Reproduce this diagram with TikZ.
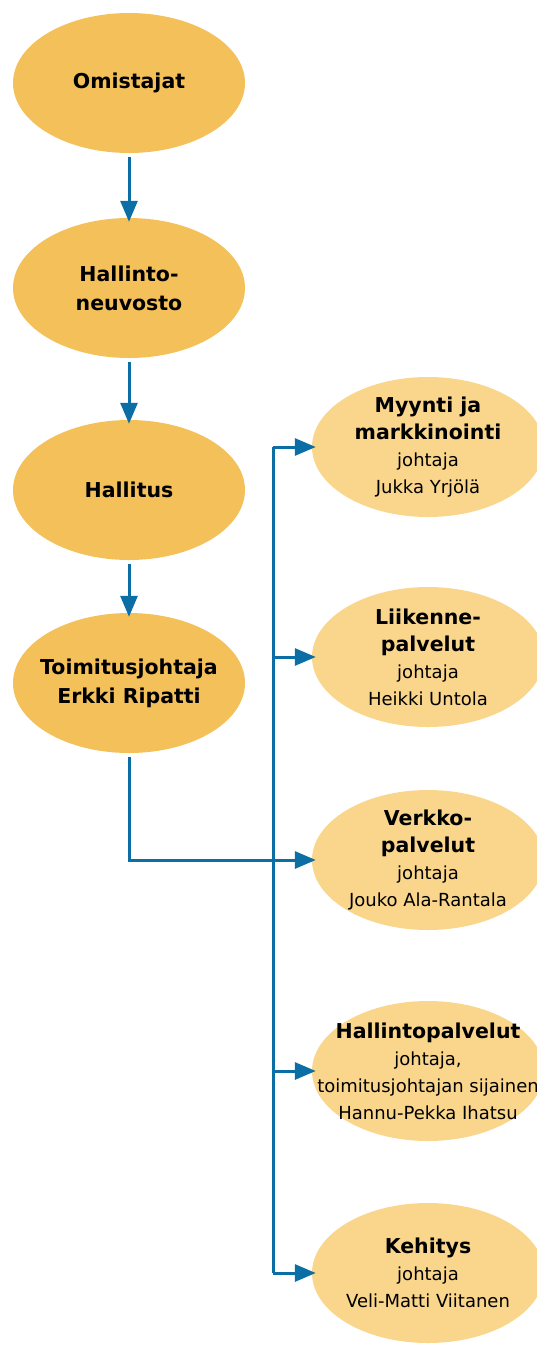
\documentclass[tikz,border=0pt]{standalone}
\usepackage{fontspec}
\setmainfont{DejaVu Sans}
\usepackage{tikz}
\usetikzlibrary{arrows.meta, shapes.geometric}

\definecolor{owncol}{RGB}{244,192,90}
\definecolor{unitcol}{RGB}{249,214,140}
\definecolor{linecol}{RGB}{11,111,166}

\newcommand{\ttl}[1]{\textbf{\fontsize{20.5}{27}\selectfont #1}}

\begin{document}
\begin{tikzpicture}[x=1pt,y=-1pt,
    arr/.style={-{Triangle[width=17pt,length=21pt]},draw=linecol,line width=3pt},
    wire/.style={draw=linecol,line width=3pt}]
    \tikzset{every node/.style={ellipse, minimum width=232pt, minimum height=140pt, inner xsep=-50pt, inner ysep=-20pt, align=center}}
    \tikzset{head/.style={fill=owncol, font=\bfseries\fontsize{20.5}{29}\selectfont}}
    \tikzset{unit/.style={fill=unitcol, font=\fontsize{18}{27}\selectfont}}
    \useasboundingbox (0,0) rectangle (537,1355);
    % hallinto
    \node[head] (omist) at (129,83) {Omistajat};
    \node[head] (neuvosto) at (129,288) {Hallinto-\\neuvosto};
    \node[head] (hallitus) at (129,490) {Hallitus};
    \node[head] (tj) at (129,683) {Toimitusjohtaja\\Erkki Ripatti};
    % yksikot
    \node[unit] (myynti) at (428,447) {\ttl{Myynti ja}\\\ttl{markkinointi}\\johtaja\\Jukka Yrjölä};
    \node[unit] (liikenne) at (428,657) {\ttl{Liikenne-}\\\ttl{palvelut}\\johtaja\\Heikki Untola};
    \node[unit] (verkko) at (428,860) {\ttl{Verkko-}\\\ttl{palvelut}\\johtaja\\Jouko Ala-Rantala};
    \node[unit] (hallpalv) at (428,1071) {\ttl{Hallintopalvelut}\\johtaja,\\toimitusjohtajan sijainen\\Hannu-Pekka Ihatsu};
    \node[unit] (kehitys) at (428,1273) {\ttl{Kehitys}\\johtaja\\Veli-Matti Viitanen};
    % nuolet
    \draw[arr, shorten <=4pt, shorten >=-4pt] (omist) -- (neuvosto);
    \draw[arr, shorten <=4pt, shorten >=-4pt] (neuvosto) -- (hallitus);
    \draw[arr, shorten <=4pt, shorten >=-4pt] (hallitus) -- (tj);
    \coordinate (bustop) at (273,447);
    \coordinate (busbot) at (273,1273);
    \draw[wire] (bustop) -- (busbot);
    \draw[arr, shorten <=4pt, shorten >=-4pt] (tj) |- (verkko);
    \draw[arr, shorten >=-4pt] (bustop) -- (myynti);
    \draw[arr, shorten >=-4pt] (bustop |- liikenne) -- (liikenne);
    \draw[arr, shorten >=-4pt] (bustop |- hallpalv) -- (hallpalv);
    \draw[arr, shorten >=-4pt] (busbot) -- (kehitys);
\end{tikzpicture}
\end{document}
